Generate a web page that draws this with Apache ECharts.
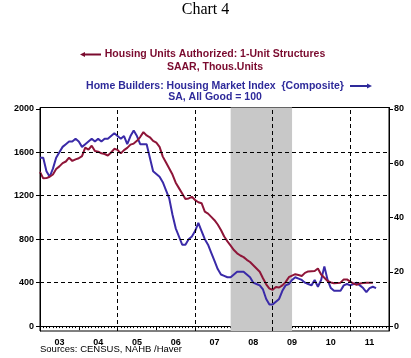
<!DOCTYPE html>
<html>
<head>
<meta charset="utf-8">
<script src="https://cdn.jsdelivr.net/npm/echarts@6/dist/echarts.min.js"></script>
<style>
html,body{margin:0;padding:0;background:#fff;}
#c{width:411px;height:358px;}
</style>
</head>
<body>
<div id="c"></div>
<script>
// Monthly data starting Jan 2003
const startYear = 2003;
// Housing Units Authorized: 1-Unit Structures, SAAR, Thous.Units (left axis)
const permits = [1419,1360,1362,1375,1395,1445,1470,1500,1515,1550,1520,1535,
  1545,1565,1643,1625,1660,1612,1605,1590,1584,1570,1598,1632,
  1622,1590,1620,1640,1670,1680,1705,1740,1785,1755,1738,1705,
  1688,1650,1560,1505,1450,1395,1320,1270,1220,1170,1175,1190,
  1160,1140,1131,1053,1035,1005,975,935,885,825,780,740,
  700,670,650,635,610,590,560,530,500,440,385,345,
  335,360,355,375,405,450,465,478,470,462,490,503,
  505,507,530,475,445,415,402,395,396,400,430,430,
  410,392,380,392,396,399,399,400];
// Home Builders: Housing Market Index (Composite), SA, All Good = 100 (right axis)
const hmi = [62,62,57,55,58,62,64,66,67,68,68,69,
  68,66,67,68,69,68,69,68,69,69,70,71,
  70,69,70,67,70,72,70,67,67,67,62,57,
  56,55,53,50,47,41,36,33,30,30,32,33,
  35,38,35,32,30,27,24,21,19,18.5,18,18,
  19,20,20,20,19,18,16,15.5,15,13.5,10,8,
  8,9,10,13,15,15.5,17,18,17.5,17,16,15.5,
  15,17,14.5,17,22,17,14,13,13,13,15,15.5,
  15,15.5,16,15,14,12.5,14,14.5,14];
const leftTicks = [0,400,800,1200,1600,2000];
const rightTicks = [0,20,40,60,80];
const yearLabels = ['03','04','05','06','07','08','09','10','11'];
const vGrid = [2003,2005,2007,2009,2011];
const hGrid = [400,800,1200,1600];
const recession = [2007 + 11/12, 2009 + 6/12];

const red = '#8E1538';
const blue = '#3A2AA8';
const toXY = arr => arr.map((v,i)=>[startYear + i/12, v]);
const labelFont = {fontFamily:'Liberation Sans, Arial, sans-serif', fontWeight:'bold', fontSize:9, color:'#000'};
const legFont = 'bold 10.5px "Liberation Sans", Arial, sans-serif';

const chart = echarts.init(document.getElementById('c'), null, {renderer:'canvas'});
chart.setOption({
  animation:false,
  backgroundColor:'#fff',
  grid:{left:40, right:22, top:107.5, bottom:27, show:true, borderColor:'#000', borderWidth:1, backgroundColor:'transparent'},
  xAxis:{type:'value', min:2003, max:2012, interval:1,
    axisLine:{show:true, lineStyle:{color:'#000', width:1}},
    axisTick:{show:true, length:4, lineStyle:{color:'#000'}},
    minorTick:{show:true, splitNumber:12, length:2, lineStyle:{color:'#000'}},
    splitLine:{show:false},
    axisLabel:Object.assign({}, labelFont, {
      customValues: yearLabels.map((s,i)=>2003.5+i),
      formatter: v => yearLabels[Math.round(v-2003.5)] || '',
      margin:7})
  },
  yAxis:[
    {type:'value', min:-45, max:2012, position:'left',
      axisLine:{show:true, lineStyle:{color:'#000'}},
      axisTick:{show:true, length:4, customValues:leftTicks, lineStyle:{color:'#000'}},
      axisLabel:Object.assign({}, labelFont, {customValues:leftTicks, margin:6, formatter: v => String(v)}),
      splitLine:{show:false}},
    {type:'value', min:-1.8, max:80.5, position:'right',
      axisLine:{show:true, lineStyle:{color:'#000'}},
      axisTick:{show:true, length:4, customValues:rightTicks, lineStyle:{color:'#000'}},
      axisLabel:Object.assign({}, labelFont, {customValues:rightTicks, margin:5, formatter: v => String(v)}),
      splitLine:{show:false}}
  ],
  graphic:[
    {type:'text', left:'center', top:2, style:{text:'Chart 4', font:'16px "Liberation Serif", "Times New Roman", serif', fill:'#000'}},
    {type:'text', x:215, y:54.5, style:{text:'Housing Units Authorized: 1-Unit Structures', font:legFont, fill:'#7A0A2E', align:'center', verticalAlign:'middle'}},
    {type:'text', x:215, y:66.7, style:{text:'SAAR, Thous.Units', font:legFont, fill:'#7A0A2E', align:'center', verticalAlign:'middle'}},
    {type:'text', x:215, y:86, style:{text:'Home Builders: Housing Market Index  {Composite}', font:legFont, fill:'#2E2A9A', align:'center', verticalAlign:'middle'}},
    {type:'text', x:215, y:97.5, style:{text:'SA, All Good = 100', font:legFont, fill:'#2E2A9A', align:'center', verticalAlign:'middle'}},
    {type:'line', shape:{x1:83, y1:54.5, x2:101, y2:54.5}, style:{stroke:'#7A0A2E', lineWidth:2}},
    {type:'polygon', shape:{points:[[80,54.5],[85,52],[85,57]]}, style:{fill:'#7A0A2E'}},
    {type:'line', shape:{x1:350, y1:86, x2:368, y2:86}, style:{stroke:'#2E2A9A', lineWidth:2}},
    {type:'polygon', shape:{points:[[372,86],[367,83.5],[367,88.5]]}, style:{fill:'#2E2A9A'}},
    {type:'text', x:40, y:349.5, style:{text:'Sources: CENSUS, NAHB /Haver', font:'9.5px "Liberation Sans", Arial, sans-serif', fill:'#000', verticalAlign:'middle'}}
  ],
  series:[
    {type:'line', name:'Permits', yAxisIndex:0, data:toXY(permits), showSymbol:false, symbol:'none',
      lineStyle:{color:red, width:2}, z:3,
      markArea:{silent:true, itemStyle:{color:'#C8C8C8'}, data:[[{xAxis:recession[0]},{xAxis:recession[1]}]]},
      markLine:{silent:true, symbol:'none', label:{show:false},
        lineStyle:{color:'#000', type:[4,3], width:1},
        data: vGrid.map(v=>({xAxis:v})).concat(hGrid.map(v=>({yAxis:v})))}
    },
    {type:'line', name:'HMI', yAxisIndex:1, data:toXY(hmi), showSymbol:false, symbol:'none',
      lineStyle:{color:blue, width:2}, z:2}
  ]
});
</script>
</body>
</html>
